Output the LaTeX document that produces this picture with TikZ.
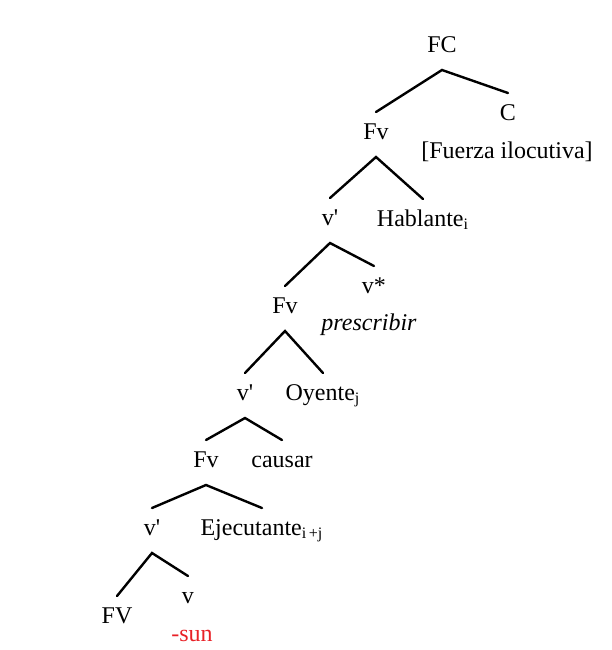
\documentclass[tikz,border=0pt]{standalone}
\usepackage{fontspec}
\setmainfont{Liberation Serif}
\definecolor{sunred}{RGB}{232, 32, 38}
\usetikzlibrary{positioning}
\tikzset{
	lbl/.style={anchor=base, inner sep=0pt, font=\fontsize{12}{14}\selectfont},
	gloss/.style={lbl},
	morph/.style={lbl, text=sunred},
	branch/.style={line width=1.2pt, line cap=round},
}

\begin{document}
\begin{tikzpicture}[x=0.5pt, y=-0.5pt]
		\useasboundingbox (0,0) rectangle (612,650);
		% labels of the tree
		\node[lbl] (fc) at (442,52) {FC};
		\node[lbl] (c) at (508,120) {C};
		\node[gloss] (fuerza) at (507,158) {[Fuerza ilocutiva]};
		\node[lbl] (fvA) at (376,139) {Fv};
		\node[lbl] (vbarA) at (330,225) {v\textquotesingle};
		\node[lbl] (hablante) at (423,226) {Hablante\textsubscript{i}};
		\node[lbl] (vstar) at (374,293) {v*};
		\node[gloss] (prescribir) at (369,330) {\itshape prescribir};
		\node[lbl] (fvB) at (285,313) {Fv};
		\node[lbl] (vbarB) at (245,400) {v\textquotesingle};
		\node[lbl] (oyente) at (323,400) {Oyente\textsubscript{j}};
		\node[lbl] (fvC) at (206,467) {Fv};
		\node[lbl] (causar) at (282,467) {causar};
		\node[lbl] (vbarC) at (152,535) {v\textquotesingle};
		\node[lbl] (ejecutante) at (262,535) {Ejecutante\textsubscript{i\,+j}};
		\node[lbl] (fvD) at (117,623) {FV};
		\node[lbl] (vsmall) at (188,603) {v};
		\node[morph] (sun) at (192,641) {-sun};
		% branches
		\draw[branch] ([yshift=13.5pt]fvA.base) -- ([yshift=-9pt]fc.base) -- ([yshift=13.5pt]c.base);
		\draw[branch] ([yshift=13.5pt]vbarA.base) -- ([yshift=-9pt]fvA.base) -- ([yshift=13.5pt]hablante.base);
		\draw[branch] ([yshift=13.5pt]fvB.base) -- ([yshift=-9pt]vbarA.base) -- ([yshift=13.5pt]vstar.base);
		\draw[branch] ([yshift=13.5pt]vbarB.base) -- ([yshift=-9pt]fvB.base) -- ([yshift=13.5pt]oyente.base);
		\draw[branch] ([yshift=13.5pt]fvC.base) -- ([yshift=-9pt]vbarB.base) -- ([yshift=13.5pt]causar.base);
		\draw[branch] ([yshift=13.5pt]vbarC.base) -- ([yshift=-9pt]fvC.base) -- ([yshift=13.5pt]ejecutante.base);
		\draw[branch] ([yshift=13.5pt]fvD.base) -- ([yshift=-9pt]vbarC.base) -- ([yshift=13.5pt]vsmall.base);
\end{tikzpicture}
\end{document}
